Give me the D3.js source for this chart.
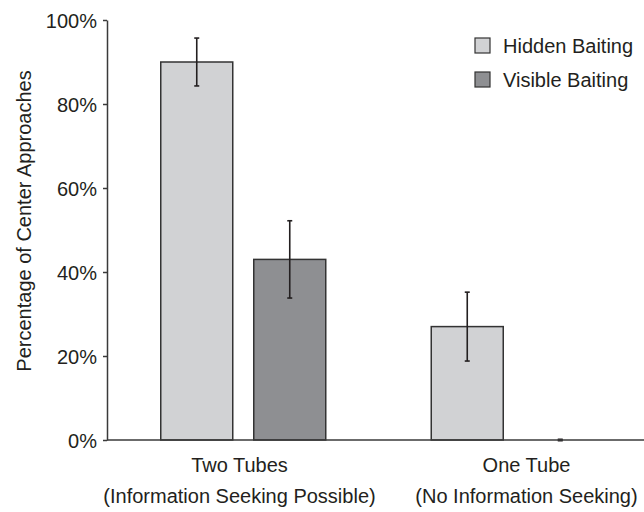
<!DOCTYPE html>
<head>
	<script type="text/javascript" src="https://cdn.jsdelivr.net/npm/d3@7"></script>
</head>
<style type="text/css">
body{
	margin: 0;
	background: #fff;
}
text{
	font-family: "Liberation Sans", Arial, sans-serif;
	font-size: 20px;
	fill: #231f20;
}
.axis path, .axis line{
	stroke: #3a3a3a;
	stroke-width: 1.5px;
}
.bar{
	stroke: #333;
	stroke-width: 1.5px;
}
.err{
	stroke: #231f20;
	stroke-width: 1.6px;
}
</style>
<body>
	<div class="viz"></div>
</body>
<script type="text/javascript">
// data
var groups = ["Two Tubes", "One Tube"];
var subLabels = ["(Information Seeking Possible)", "(No Information Seeking)"];
var series = ["Hidden Baiting", "Visible Baiting"];
var hidden = [90, 27];
var visible = [43, 0];
var hiddenErr = [5.7, 8.2];
var visibleErr = [9.2, 0];
var yTicks = [0, 20, 40, 60, 80, 100];
var colors = ["#d1d2d4", "#8e8f92"];

var W = 644, H = 512;
var svg = d3.select(".viz").append("svg").attr("width", W).attr("height", H);

var y = d3.scaleLinear().domain([0, 100]).range([440, 20]);
var x0 = d3.scaleBand().domain(groups).range([108, 649]);
var x1 = d3.scaleBand().domain(series).range([52.75, 217.75]).paddingInner(21/93);
// labels sit a bit wider apart than the bar groups
var xLab = d3.scaleBand().domain(groups).range([96, 670]);
var color = d3.scaleOrdinal().domain(series).range(colors);

var rows = [];
groups.forEach(function(g, i){
	rows.push({g: g, s: series[0], v: hidden[i], e: hiddenErr[i]});
	rows.push({g: g, s: series[1], v: visible[i], e: visibleErr[i]});
});

// bars
svg.selectAll("rect.bar").data(rows).enter().append("rect")
	.attr("class", "bar")
	.attr("x", function(d){ return x0(d.g) + x1(d.s); })
	.attr("width", x1.bandwidth())
	.attr("y", function(d){ return y(d.v); })
	.attr("height", function(d){ return y(0) - y(d.v); })
	.style("fill", function(d){ return color(d.s); })
	.style("stroke-opacity", function(d){ return d.v > 0 ? 1 : 0; });

// error bars
var cap = 2.5;
var eb = svg.selectAll("g.eb").data(rows).enter().append("g").attr("class", "eb")
	.attr("transform", function(d){ return "translate(" + (x0(d.g) + x1(d.s) + x1.bandwidth()/2) + ",0)"; });
eb.append("line").attr("class", "err")
	.attr("y1", function(d){ return y(d.v + d.e); })
	.attr("y2", function(d){ return y(d.v - d.e); });
eb.append("line").attr("class", "err")
	.attr("x1", -cap).attr("x2", cap)
	.attr("y1", function(d){ return y(d.v + d.e); })
	.attr("y2", function(d){ return y(d.v + d.e); });
eb.append("line").attr("class", "err")
	.attr("x1", -cap).attr("x2", cap)
	.attr("y1", function(d){ return y(d.v - d.e); })
	.attr("y2", function(d){ return y(d.v - d.e); })
	.style("stroke-width", function(d){ return d.e === 0 ? 3 : 1.6; });

// y axis
var yAxis = d3.axisLeft(y).tickValues(yTicks).tickSize(4).tickSizeOuter(0)
	.tickFormat(function(d){ return d + "%"; });
var ga = svg.append("g").attr("class", "axis").attr("transform", "translate(107,0)").call(yAxis);
ga.selectAll("text").attr("x", -10).attr("dy", "0.36em")
	.style("font-size", "20px").style("font-family", null);

// x axis line
svg.append("g").attr("class", "axis").append("line")
	.attr("x1", 107).attr("x2", W).attr("y1", y(0)).attr("y2", y(0));

// category labels
groups.forEach(function(g, i){
	var cx = xLab(g) + xLab.bandwidth()/2;
	svg.append("text").attr("x", cx).attr("y", 472).attr("text-anchor", "middle").text(g);
	svg.append("text").attr("x", cx).attr("y", 503).attr("text-anchor", "middle").text(subLabels[i]);
});

// y title
svg.append("text").attr("transform", "translate(31,221) rotate(-90)")
	.attr("text-anchor", "middle")
	.text("Percentage of Center Approaches");

// legend
var lg = svg.selectAll("g.legend").data(series).enter().append("g").attr("class", "legend")
	.attr("transform", function(d, i){ return "translate(475," + (38 + i*34) + ")"; });
lg.append("rect").attr("width", 15).attr("height", 15)
	.style("fill", function(d){ return color(d); })
	.style("stroke", "#333").style("stroke-width", 1.2);
lg.append("text").attr("x", 28).attr("y", 15).text(function(d){ return d; });
</script>
